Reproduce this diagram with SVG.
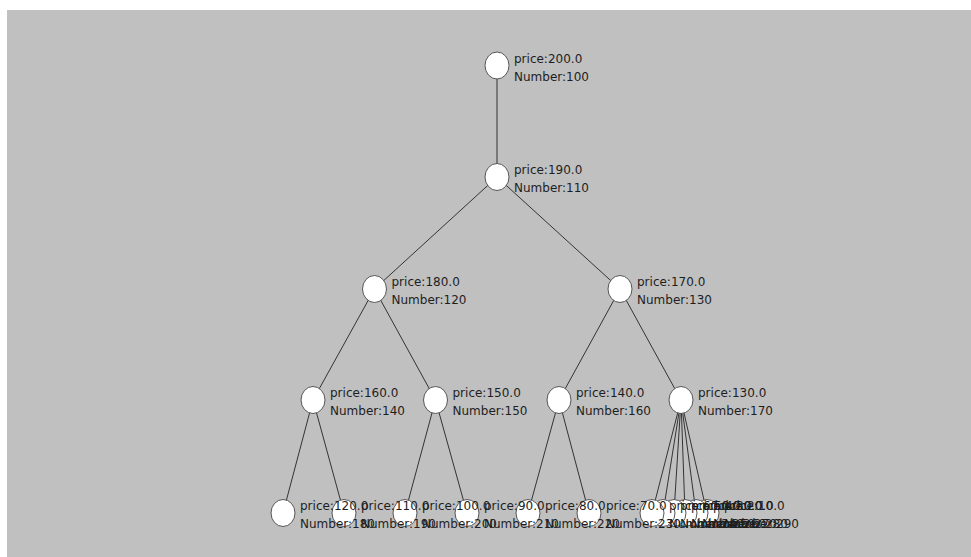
<svg xmlns="http://www.w3.org/2000/svg" width="971" height="557" viewBox="0 0 971 557">
<style>
.e{stroke:#333;stroke-width:1;fill:none}
.n ellipse{fill:#fff;stroke:#555;stroke-width:1}
.n text{font-family:"DejaVu Sans",sans-serif;font-size:12px;fill:#1e1e1e}
</style>
<rect x="7" y="10" width="964" height="547" fill="#c0c0c0"/>
<g id="edges" class="e">
<line x1="497" y1="65.5" x2="497" y2="177"/>
<line x1="497" y1="177" x2="374.5" y2="289"/>
<line x1="497" y1="177" x2="620" y2="289"/>
<line x1="374.5" y1="289" x2="313" y2="400"/>
<line x1="374.5" y1="289" x2="435.5" y2="400"/>
<line x1="620" y1="289" x2="559" y2="400"/>
<line x1="620" y1="289" x2="681" y2="400"/>
<line x1="313" y1="400" x2="283" y2="513"/>
<line x1="313" y1="400" x2="344" y2="513"/>
<line x1="435.5" y1="400" x2="405" y2="513"/>
<line x1="435.5" y1="400" x2="467" y2="513"/>
<line x1="559" y1="400" x2="528" y2="513"/>
<line x1="559" y1="400" x2="589" y2="513"/>
<line x1="681" y1="400" x2="652" y2="513"/>
<line x1="681" y1="400" x2="663" y2="513"/>
<line x1="681" y1="400" x2="674" y2="513"/>
<line x1="681" y1="400" x2="685" y2="513"/>
<line x1="681" y1="400" x2="696" y2="513"/>
<line x1="681" y1="400" x2="707" y2="513"/>
</g>
<g id="n290" class="n"><ellipse cx="707" cy="513" rx="12" ry="13.5"/><text x="724" y="510">price:10.0</text><text x="724" y="528">Number:290</text></g>
<g id="n280" class="n"><ellipse cx="696" cy="513" rx="12" ry="13.5"/><text x="713" y="510">price:20.0</text><text x="713" y="528">Number:280</text></g>
<g id="n270" class="n"><ellipse cx="685" cy="513" rx="12" ry="13.5"/><text x="702" y="510">price:30.0</text><text x="702" y="528">Number:270</text></g>
<g id="n260" class="n"><ellipse cx="674" cy="513" rx="12" ry="13.5"/><text x="691" y="510">price:40.0</text><text x="691" y="528">Number:260</text></g>
<g id="n250" class="n"><ellipse cx="663" cy="513" rx="12" ry="13.5"/><text x="680" y="510">price:50.0</text><text x="680" y="528">Number:250</text></g>
<g id="n240" class="n"><ellipse cx="652" cy="513" rx="12" ry="13.5"/><text x="669" y="510">price:60.0</text><text x="669" y="528">Number:240</text></g>
<g id="n230" class="n"><ellipse cx="589" cy="513" rx="12" ry="13.5"/><text x="606" y="510">price:70.0</text><text x="606" y="528">Number:230</text></g>
<g id="n220" class="n"><ellipse cx="528" cy="513" rx="12" ry="13.5"/><text x="545" y="510">price:80.0</text><text x="545" y="528">Number:220</text></g>
<g id="n210" class="n"><ellipse cx="467" cy="513" rx="12" ry="13.5"/><text x="484" y="510">price:90.0</text><text x="484" y="528">Number:210</text></g>
<g id="n200" class="n"><ellipse cx="405" cy="513" rx="12" ry="13.5"/><text x="422" y="510">price:100.0</text><text x="422" y="528">Number:200</text></g>
<g id="n190" class="n"><ellipse cx="344" cy="513" rx="12" ry="13.5"/><text x="361" y="510">price:110.0</text><text x="361" y="528">Number:190</text></g>
<g id="n180" class="n"><ellipse cx="283" cy="513" rx="12" ry="13.5"/><text x="300" y="510">price:120.0</text><text x="300" y="528">Number:180</text></g>
<g id="n170" class="n"><ellipse cx="681" cy="400" rx="12" ry="13.5"/><text x="698" y="397">price:130.0</text><text x="698" y="415">Number:170</text></g>
<g id="n160" class="n"><ellipse cx="559" cy="400" rx="12" ry="13.5"/><text x="576" y="397">price:140.0</text><text x="576" y="415">Number:160</text></g>
<g id="n150" class="n"><ellipse cx="435.5" cy="400" rx="12" ry="13.5"/><text x="452.5" y="397">price:150.0</text><text x="452.5" y="415">Number:150</text></g>
<g id="n140" class="n"><ellipse cx="313" cy="400" rx="12" ry="13.5"/><text x="330" y="397">price:160.0</text><text x="330" y="415">Number:140</text></g>
<g id="n130" class="n"><ellipse cx="620" cy="289" rx="12" ry="13.5"/><text x="637" y="286">price:170.0</text><text x="637" y="304">Number:130</text></g>
<g id="n120" class="n"><ellipse cx="374.5" cy="289" rx="12" ry="13.5"/><text x="391.5" y="286">price:180.0</text><text x="391.5" y="304">Number:120</text></g>
<g id="n110" class="n"><ellipse cx="497" cy="177" rx="12" ry="13.5"/><text x="514" y="174">price:190.0</text><text x="514" y="192">Number:110</text></g>
<g id="n100" class="n"><ellipse cx="497" cy="65.5" rx="12" ry="13.5"/><text x="514" y="62.5">price:200.0</text><text x="514" y="80.5">Number:100</text></g>
</svg>
